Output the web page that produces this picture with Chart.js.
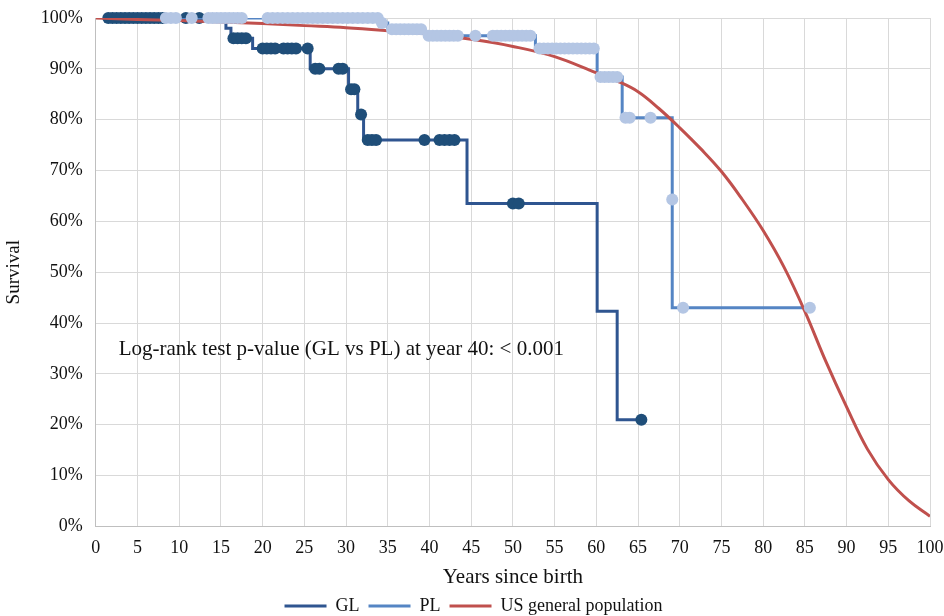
<!DOCTYPE html>
<html>
<head>
<meta charset="utf-8">
<script src="https://cdn.jsdelivr.net/npm/chart.js@4"></script>
<style>
  html, body { margin: 0; padding: 0; background: #fff; }
  #wrap { width: 944px; height: 616px; }
</style>
</head>
<body>
<div id="wrap"><canvas id="kmChart"></canvas></div>
<script>
// Kaplan-Meier survival, years since birth

// GL step line: event times and survival (%)
const glYears = [1.2, 15.6, 16.2, 18.8, 25.7, 30.3, 31.4, 32.1, 44.5, 60.1, 62.5, 65.4];
const glSurv  = [100, 98, 96, 94, 90, 86, 81, 76, 63.5, 42.3, 21, 21];

// GL censored marks
const glCensYears = [1.5, 2, 2.5, 3, 3.5, 4, 4.5, 5, 5.5, 6, 6.5, 7, 7.5, 8, 10.8, 12.4,
  16.5, 17, 17.5, 18, 20, 20.5, 21, 21.5, 22.5, 23, 23.5, 24, 25.4,
  26.3, 26.8, 29.1, 29.6, 30.6, 31, 31.8, 32.6, 33.1, 33.6,
  39.4, 41.2, 41.8, 42.4, 43, 50, 50.7, 65.4];
const glCensSurv = [100, 100, 100, 100, 100, 100, 100, 100, 100, 100, 100, 100, 100, 100, 100, 100,
  96, 96, 96, 96, 94, 94, 94, 94, 94, 94, 94, 94, 94,
  90, 90, 90, 90, 86, 86, 81, 76, 76, 76,
  76, 76, 76, 76, 76, 63.5, 63.5, 21];

// PL step line
const plYears = [8, 34.5, 35, 39.4, 52.7, 60.1, 63.1, 69.1, 85.6];
const plSurv  = [100, 99, 97.8, 96.5, 94, 88.4, 80.4, 43, 43];

// PL censored marks
const plCensYears = [8.4, 9, 9.6, 11.5, 13.5, 14, 14.5, 15, 15.5, 16, 16.5, 17, 17.5,
  20.6, 21.2, 21.8, 22.4, 23, 23.6, 24.2, 24.8, 25.4, 26, 26.6, 27.2, 27.8, 28.4, 29, 29.6,
  30.2, 30.8, 31.4, 32, 32.6, 33.2, 33.8, 34.3,
  35.5, 36, 36.5, 37, 37.5, 38, 38.5, 39,
  39.9, 40.4, 40.9, 41.4, 41.9, 42.4, 42.9, 43.4, 45.5,
  47.6, 48.1, 48.6, 49.1, 49.6, 50.1, 50.6, 51.1, 51.6, 52.1,
  53.2, 53.7, 54.2, 54.7, 55.2, 55.7, 56.2, 56.7, 57.2, 57.7, 58.2, 58.7, 59.2, 59.7,
  60.5, 61, 61.5, 62, 62.5, 63.5, 64, 66.5, 69.1, 70.4, 85.6];
const plCensSurv = [100, 100, 100, 100, 100, 100, 100, 100, 100, 100, 100, 100, 100,
  100, 100, 100, 100, 100, 100, 100, 100, 100, 100, 100, 100, 100, 100, 100, 100,
  100, 100, 100, 100, 100, 100, 100, 99,
  97.8, 97.8, 97.8, 97.8, 97.8, 97.8, 97.8, 97.8,
  96.5, 96.5, 96.5, 96.5, 96.5, 96.5, 96.5, 96.5, 96.5,
  96.5, 96.5, 96.5, 96.5, 96.5, 96.5, 96.5, 96.5, 96.5, 96.5,
  94, 94, 94, 94, 94, 94, 94, 94, 94, 94, 94, 94, 94, 94,
  88.4, 88.4, 88.4, 88.4, 88.4, 80.4, 80.4, 80.4, 64.3, 43, 43];

// US general population curve
const usYears = [0, 5, 10, 15, 20, 25, 30, 35, 40, 45, 50, 55, 60, 62.5, 65, 67.5, 70, 72.5, 75, 77.5, 80, 82.5, 85, 87.5, 90, 92.5, 95, 97.5, 100];
const usSurv  = [100, 99.7, 99.5, 99.2, 98.9, 98.5, 98.1, 97.5, 96.8, 95.8, 94.4, 92.4, 89.2, 87.6, 85.5, 82.2, 78.4, 74.3, 69.8, 64.3, 58.2, 51, 42.3, 32.5, 23.5, 15.2, 9.2, 5, 2];

const annotationText = 'Log-rank test p-value (GL vs PL) at year 40: < 0.001';

const FONT = 'Liberation Serif';

function pairs(xs, ys) {
  return xs.map((x, i) => ({ x: x, y: ys[i] }));
}

const annotationPlugin = {
  id: 'annotation',
  afterDraw(chart) {
    const ctx = chart.ctx;
    const xs = chart.scales.x;
    const ys = chart.scales.y;
    ctx.save();
    ctx.font = '21px "' + FONT + '"';
    ctx.fillStyle = '#111';
    ctx.textBaseline = 'middle';
    ctx.textAlign = 'left';
    ctx.fillText(annotationText, xs.getPixelForValue(2.75), ys.getPixelForValue(34.8));
    ctx.restore();
  }
};

const ctx = document.getElementById('kmChart');
new Chart(ctx, {
  type: 'line',
  data: {
    datasets: [
      {
        label: 'GL',
        data: pairs(glYears, glSurv),
        borderColor: '#2f5590',
        backgroundColor: '#2f5590',
        borderWidth: 3,
        stepped: true,
        pointRadius: 0,
        order: 5
      },
      {
        label: '',
        data: pairs(glCensYears, glCensSurv),
        showLine: false,
        pointRadius: 6,
        pointHoverRadius: 6,
        pointBackgroundColor: '#1f4e79',
        pointBorderWidth: 0,
        clip: false,
        order: 4
      },
      {
        label: 'PL',
        data: pairs(plYears, plSurv),
        borderColor: '#5585c4',
        backgroundColor: '#5585c4',
        borderWidth: 3,
        stepped: true,
        pointRadius: 0,
        order: 3
      },
      {
        label: '',
        data: pairs(plCensYears, plCensSurv),
        showLine: false,
        pointRadius: 6,
        pointHoverRadius: 6,
        pointBackgroundColor: '#b4c6e4',
        pointBorderWidth: 0,
        clip: false,
        order: 1
      },
      {
        label: 'US general population',
        data: pairs(usYears, usSurv),
        borderColor: '#c0504d',
        backgroundColor: '#c0504d',
        borderWidth: 3,
        tension: 0.4,
        pointRadius: 0,
        order: 2
      }
    ]
  },
  options: {
    responsive: true,
    maintainAspectRatio: false,
    animation: false,
    layout: { padding: { top: 0, left: 3, right: 0, bottom: -9 } },
    plugins: {
      legend: {
        position: 'bottom',
        labels: {
          filter: item => item.text !== '',
          sort: (a, b) => a.datasetIndex - b.datasetIndex,
          usePointStyle: true,
          pointStyle: 'line',
          pointStyleWidth: 42,
          boxHeight: 4,
          padding: 9,
          color: '#111',
          font: { family: FONT, size: 18 }
        }
      },
      tooltip: { enabled: false }
    },
    scales: {
      x: {
        type: 'linear',
        min: 0,
        max: 100,
        afterFit: s => { s.paddingRight = 14; },
        ticks: {
          stepSize: 5,
          color: '#111',
          padding: 11,
          font: { family: FONT, size: 18 }
        },
        grid: { color: '#d9d9d9', drawTicks: false },
        border: { color: '#bfbfbf' },
        title: {
          display: true,
          text: 'Years since birth',
          color: '#111',
          padding: { top: -3, bottom: 0 },
          font: { family: FONT, size: 21, lineHeight: 1 }
        }
      },
      y: {
        min: 0,
        max: 100,
        afterFit: s => { s.paddingTop = 18; },
        ticks: {
          stepSize: 10,
          color: '#111',
          padding: 13,
          callback: v => v + '%',
          font: { family: FONT, size: 18 }
        },
        grid: { color: '#d9d9d9', drawTicks: false },
        border: { color: '#bfbfbf' },
        title: {
          display: true,
          text: 'Survival',
          color: '#111',
          padding: { top: 0, bottom: 2 },
          font: { family: FONT, size: 19 }
        }
      }
    }
  },
  plugins: [annotationPlugin]
});
</script>
</body>
</html>
